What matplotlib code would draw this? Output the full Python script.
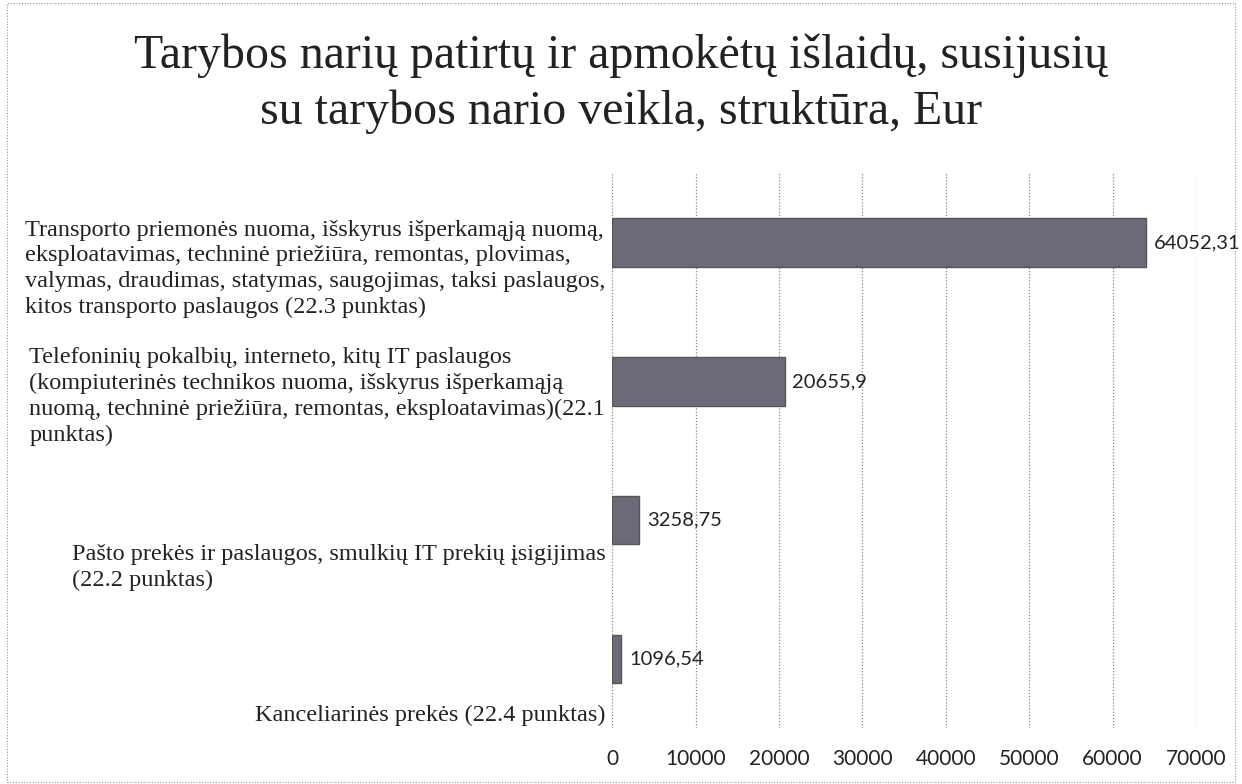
import matplotlib.pyplot as plt
from matplotlib.patches import Rectangle

categories = [
    "Transporto priemonės nuoma, išskyrus išperkamąją nuomą,\n"
    "eksploatavimas, techninė priežiūra, remontas, plovimas,\n"
    "valymas, draudimas, statymas, saugojimas, taksi paslaugos,\n"
    "kitos transporto paslaugos (22.3 punktas)",
    "Telefoninių pokalbių, interneto, kitų IT paslaugos\n"
    "(kompiuterinės technikos nuoma, išskyrus išperkamąją\n"
    "nuomą, techninė priežiūra, remontas, eksploatavimas)(22.1\n"
    "punktas)",
    "Pašto prekės ir paslaugos, smulkių IT prekių įsigijimas\n"
    "(22.2 punktas)",
    "Kanceliarinės prekės (22.4 punktas)",
]
values = [64052.31, 20655.9, 3258.75, 1096.54]
value_labels = ["64052,31", "20655,9", "3258,75", "1096,54"]
xticks = [0, 10000, 20000, 30000, 40000, 50000, 60000, 70000]

fig = plt.figure(figsize=(12.42, 7.84), dpi=100)
ax = fig.add_axes([0.493, 0.071, 0.47, 0.708])

ypos = list(range(len(values)))
ax.barh(ypos, values, height=0.35, color="#6c6a78", edgecolor="#4f5a52", linewidth=1)
ax.set_ylim(len(values) - 0.5, -0.5)
ax.set_xlim(0, 70000)

ax.set_xticks(xticks)
ax.set_xticklabels([str(t) for t in xticks], fontsize=15, family="Lato", color="#222222")
ax.tick_params(axis="x", length=0, pad=15)
ax.set_yticks([])
ax.grid(axis="x", linestyle=(0, (1, 1.5)), color="#888888", linewidth=0.9)
ax.set_axisbelow(True)
for s in ax.spines.values():
    s.set_visible(False)

for y, v, lab in zip(ypos, values, value_labels):
    ax.text(v + 900, y, lab, va="center", ha="left", fontsize=14.5, family="Lato", color="#222222")

# category labels sit a bit lower than their bars, like in the scan
label_shift = [0.19, 0.11, 0.34, 0.41]
for y, cat, d in zip(ypos, categories, label_shift):
    ax.text(-0.012, y + d, cat, transform=ax.get_yaxis_transform(), ha="right", va="center",
            multialignment="left", fontsize=17.5, family="Liberation Serif", linespacing=1.3,
            color="#222222")

fig.text(0.5, 0.893, "Tarybos narių patirtų ir apmokėtų išlaidų, susijusių\nsu tarybos nario veikla, struktūra, Eur",
         ha="center", va="center", fontsize=34.5, family="Liberation Serif", linespacing=1.33,
         color="#222222")

fig.patches.append(Rectangle((0.006, 0.003), 0.988, 0.993, transform=fig.transFigure, fill=False,
                             edgecolor="#999999", linestyle=(0, (1, 1.5)), linewidth=0.8))

fig.savefig("out.png", dpi=100)
